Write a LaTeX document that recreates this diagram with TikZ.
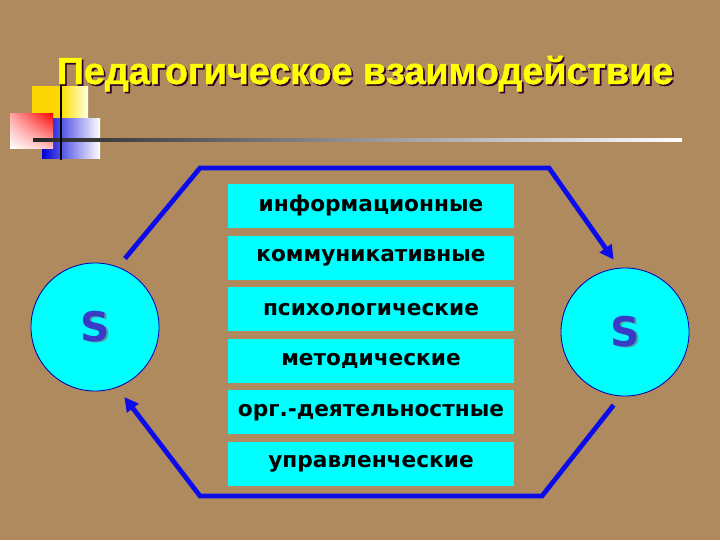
\documentclass[tikz,border=0pt]{standalone}
\usepackage{fontspec}
\setmainfont{DejaVu Sans}
\newfontfamily\titlefont[BoldFeatures={FakeBold=1.2}]{Liberation Sans}
\usetikzlibrary{positioning,arrows.meta,shadings}
\definecolor{sand}{RGB}{176,138,95}
\definecolor{boxcyan}{RGB}{0,255,255}
\definecolor{arrowblue}{RGB}{12,12,235}
\definecolor{sblue}{RGB}{58,58,200}
\definecolor{titleyellow}{RGB}{255,255,0}
\newcommand{\shadowtext}[3]{\makebox[0pt][l]{\raisebox{-1.2pt}{\hspace{1.2pt}\textcolor{#1}{#3}}}\textcolor{#2}{#3}}

\begin{document}
\begin{tikzpicture}[x=0.025cm, y=-0.025cm,
    item/.style={fill=boxcyan, minimum width=7.15cm, minimum height=1.1cm, inner sep=0pt, font=\fontsize{15.4}{18}\selectfont\bfseries},
    subject/.style={circle, fill=boxcyan, draw=blue!70!black, line width=0.6pt, minimum size=3.2cm, inner sep=0pt, font=\fontsize{29}{33}\selectfont\bfseries},
    flow/.style={draw=arrowblue, line width=3.4pt, -{Triangle[length=10pt,width=10pt]}}]
    \fill[sand] (0,0) rectangle (720,540);

    \fill[yellow!75!orange] (32,86) rectangle (61,118);
    \shade[left color=yellow!75!orange, right color=white!90!yellow] (61,86) rectangle (88,118);
    \shade[left color=blue!85!black, middle color=blue!75, right color=white] (42,118) rectangle (100,158);
    \shade[upper right=red, upper left=red!35!white, lower left=white, lower right=red!25!white] (10,113) rectangle (53,148);
    \shade[left color=black!85, middle color=black!45, right color=white] (33,138.5) rectangle (682,141.5);
    \draw[black, line width=1.5pt] (61,83) -- (61,160);

    \node [font=\titlefont\fontsize{26.8}{30}\selectfont\bfseries, anchor=base] (title) at (365,84) {\shadowtext{black!65!violet}{titleyellow}{Педагогическое взаимодействие}};

    \node [item] (info) at (371,206) {информационные};
    \node [item, below=0.175cm of info] (comm) {коммуникативные};
    \node [item, below=0.175cm of comm] (psych) {психологические};
    \node [item, below=0.175cm of psych] (method) {методические};
    \node [item, below=0.175cm of method] (org) {орг.-деятельностные};
    \node [item, below=0.175cm of org] (manage) {управленческие};

    \node [subject] (sleft) at (95,327) {\shadowtext{teal!70}{sblue}{S}};
    \node [subject] (sright) at (625,332) {\shadowtext{teal!70}{sblue}{S}};

    \coordinate (tl) at (200,168);
    \coordinate (tr) at (549,168);
    \coordinate (br) at (542,496);
    \coordinate (bl) at (200,496);

    \draw [flow, shorten <=0.27cm, shorten >=0.25cm] (sleft.69) -- (tl) -- (tr) -- (sright.95);
    \draw [flow, shorten <=0.28cm, shorten >=0.3cm] (sright.-94) -- (br) -- (bl) -- (sleft.-70);
\end{tikzpicture}
\end{document}
